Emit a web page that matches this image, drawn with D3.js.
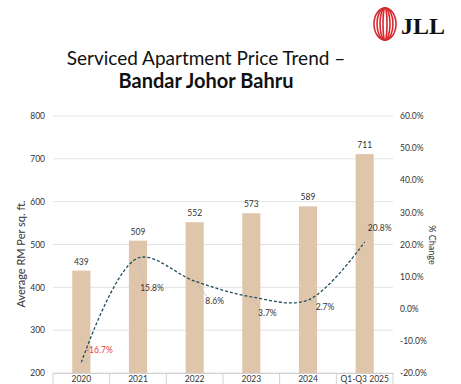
<!DOCTYPE html>
<html>
<head>
<meta charset="utf-8">
<script src="https://cdn.jsdelivr.net/npm/d3@7"></script>
<style>
  body { margin: 0; background: #fff; }
</style>
</head>
<body>
<script>
var categories = ['2020', '2021', '2022', '2023', '2024', 'Q1-Q3 2025'];
var prices = [439, 509, 552, 573, 589, 711];
var changes = [-16.7, 15.8, 8.6, 3.7, 2.7, 20.8];
var priceTicks = [200, 300, 400, 500, 600, 700, 800];
var changeTicks = [-20, -10, 0, 10, 20, 30, 40, 50, 60];
// label offsets from the point (dx, dy of text centre/baseline)
var labelOffsets = [[18, -9], [14, 33], [20, 23], [16, 19], [17, 10], [15, -11]];

var W = 461, H = 384;
var FONT = 'Lato, "Noto Sans", sans-serif';
var svg = d3.select('body').append('svg').attr('width', W).attr('height', H)
    .style('font-family', FONT);

var mLeft = 53, mRight = 393, mTop = 116, mBottom = 373;

var x = d3.scaleBand().domain(categories).range([mLeft, mRight]).padding(0);
var y = d3.scaleLinear().domain([200, 800]).range([mBottom, mTop]);
var y2 = d3.scaleLinear().domain([-20, 60]).range([mBottom, mTop]);

/*TITLE*/
svg.append('text').attr('x', 206).attr('y', 65).attr('text-anchor', 'middle')
    .attr('font-size', 19).attr('fill', '#111')
    .text('Serviced Apartment Price Trend –');
svg.append('text').attr('x', 206).attr('y', 88).attr('text-anchor', 'middle')
    .attr('font-size', 20).attr('font-weight', 'bold').attr('fill', '#111')
    .text('Bandar Johor Bahru');

/*LOGO*/
var logo = svg.append('g').attr('transform', 'translate(385,24)');
[[11, 16], [8, 16], [5, 16], [2, 16]].forEach(function(r) {
    logo.append('ellipse').attr('rx', r[0]).attr('ry', r[1])
        .attr('fill', 'none').attr('stroke', '#d7282f').attr('stroke-width', 1.6);
});
svg.append('text').attr('x', 401).attr('y', 34).attr('font-size', 24)
    .attr('font-weight', 'bold').style('font-family', '"Liberation Serif", serif')
    .attr('fill', '#111').text('JLL');

/*GRIDLINES*/
svg.selectAll('line.grid')
    .data(priceTicks)
    .enter().append('line')
        .attr('class', 'grid')
        .attr('x1', mLeft).attr('x2', mRight)
        .attr('y1', function(d) { return y(d); })
        .attr('y2', function(d) { return y(d); })
        .attr('stroke', '#e3e3e3').attr('stroke-width', 1);

/*BARS*/
var bw = x.bandwidth() * 0.32;
svg.selectAll('rect.bar')
    .data(prices)
    .enter().append('rect')
        .attr('class', 'bar')
        .attr('x', function(d, i) { return x(categories[i]) + x.bandwidth() / 2 - bw / 2; })
        .attr('y', function(d) { return y(d); })
        .attr('width', bw)
        .attr('height', function(d) { return mBottom - y(d); })
        .attr('fill', '#dfc6ab');

svg.selectAll('text.val')
    .data(prices)
    .enter().append('text')
        .attr('class', 'val')
        .attr('x', function(d, i) { return x(categories[i]) + x.bandwidth() / 2; })
        .attr('y', function(d) { return y(d) - 6; })
        .attr('text-anchor', 'middle')
        .attr('font-size', 8.5).attr('fill', '#333')
        .text(function(d) { return d; });

/*AXES*/
var gx = svg.append('g').attr('transform', 'translate(0,' + mBottom + ')')
    .call(d3.axisBottom(x).tickSize(0).tickPadding(3));
gx.select('.domain').attr('stroke', '#d0d0d0');
gx.selectAll('text').attr('font-size', 8.5).attr('fill', '#333').attr('font-family', FONT);
svg.selectAll('line.sep')
    .data(d3.range(categories.length + 1))
    .enter().append('line')
        .attr('class', 'sep')
        .attr('x1', function(d) { return mLeft + d * x.step(); })
        .attr('x2', function(d) { return mLeft + d * x.step(); })
        .attr('y1', mBottom).attr('y2', H)
        .attr('stroke', '#d0d0d0');

var gy = svg.append('g').attr('transform', 'translate(' + mLeft + ',0)')
    .call(d3.axisLeft(y).tickValues(priceTicks).tickSize(0).tickPadding(8));
gy.select('.domain').remove();
gy.selectAll('text').attr('font-size', 8.5).attr('fill', '#333').attr('font-family', FONT);

var gy2 = svg.append('g').attr('transform', 'translate(' + mRight + ',0)')
    .call(d3.axisRight(y2).tickValues(changeTicks).tickSize(0).tickPadding(7)
        .tickFormat(function(d) { return d.toFixed(1) + '%'; }));
gy2.select('.domain').remove();
gy2.selectAll('text').attr('font-size', 8.5).attr('fill', '#333').attr('font-family', FONT);

svg.append('text').attr('transform', 'translate(25,254) rotate(-90)')
    .attr('text-anchor', 'middle').attr('font-size', 11).attr('fill', '#333')
    .text('Average RM Per sq. ft.');
svg.append('text').attr('transform', 'translate(429,245) rotate(90)')
    .attr('text-anchor', 'middle').attr('font-size', 9).attr('fill', '#333')
    .text('% Change');

/*LINE*/
var cx = function(d, i) { return x(categories[i]) + x.bandwidth() / 2; };
var line = d3.line()
    .x(cx)
    .y(function(d) { return y2(d); })
    .curve(d3.curveCatmullRom.alpha(0.5));
svg.append('path').datum(changes)
    .attr('d', line)
    .attr('fill', 'none').attr('stroke', '#1e4d5c').attr('stroke-width', 1.3)
    .attr('stroke-dasharray', '3,2');

/*CHANGE LABELS*/
svg.selectAll('line.leader')
    .data(changes)
    .enter().append('line')
        .attr('class', 'leader')
        .attr('x1', cx)
        .attr('y1', function(d) { return y2(d); })
        .attr('x2', function(d, i) { return cx(d, i) + labelOffsets[i][0] - 8; })
        .attr('y2', function(d, i) { return y2(d) + labelOffsets[i][1] + (labelOffsets[i][1] > 0 ? -8 : 3); })
        .attr('stroke', '#bbb').attr('stroke-width', 0.7);

svg.selectAll('text.chg')
    .data(changes)
    .enter().append('text')
        .attr('class', 'chg')
        .attr('x', function(d, i) { return cx(d, i) + labelOffsets[i][0]; })
        .attr('y', function(d, i) { return y2(d) + labelOffsets[i][1]; })
        .attr('text-anchor', 'middle')
        .attr('font-size', 8.5)
        .attr('fill', function(d) { return d < 0 ? '#e8383d' : '#333'; })
        .text(function(d) { return d.toFixed(1) + '%'; });
</script>
</body>
</html>
